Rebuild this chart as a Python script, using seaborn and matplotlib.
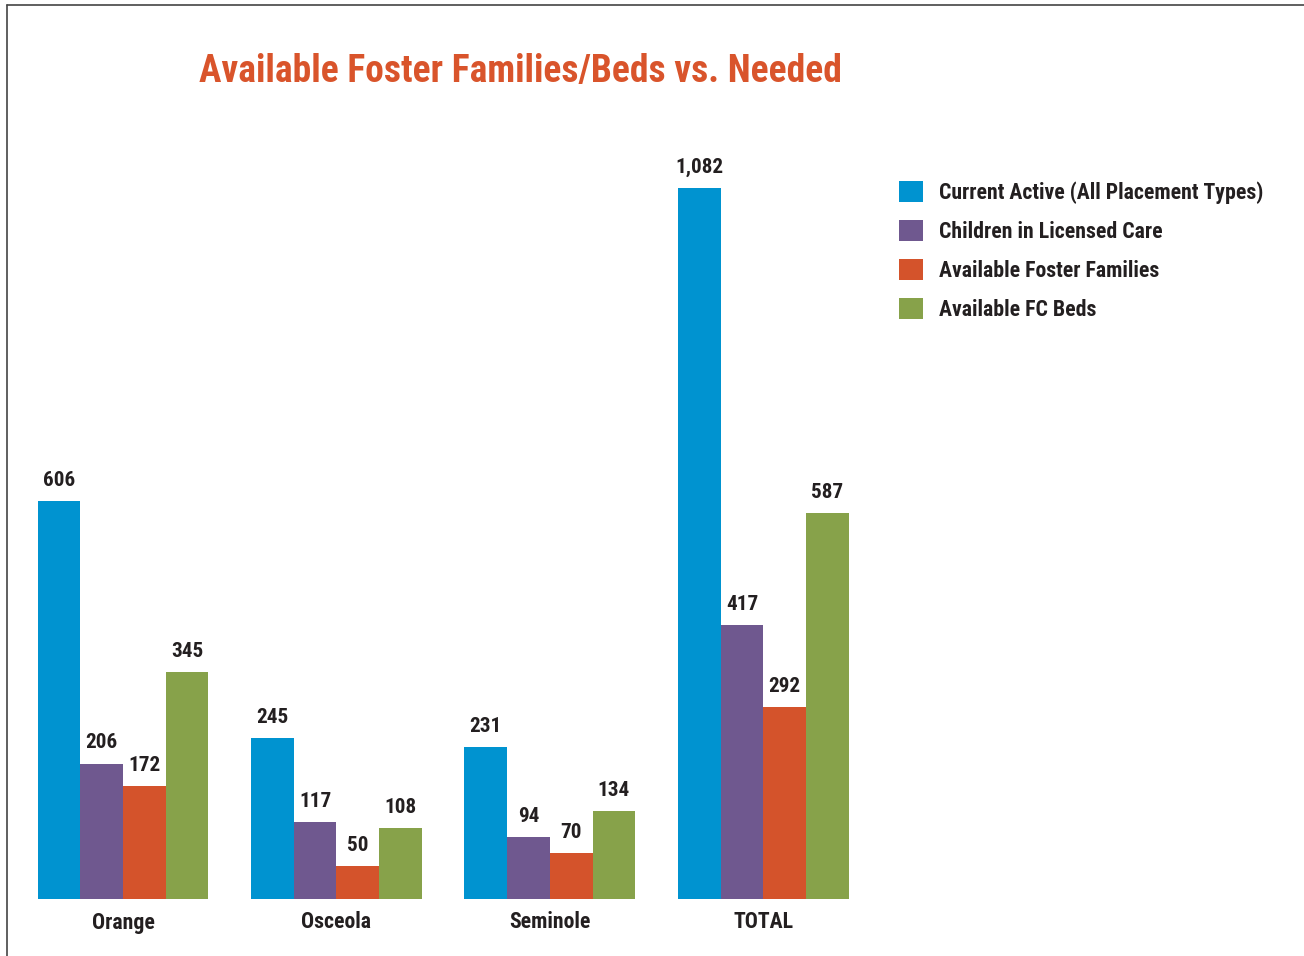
import matplotlib
matplotlib.use("Agg")
import matplotlib.pyplot as plt
import seaborn as sns
import pandas as pd
from matplotlib.lines import Line2D
from matplotlib import font_manager
from matplotlib.font_manager import FontProperties

counties = ["Orange", "Osceola", "Seminole", "TOTAL"]
series = ["Current Active (All Placement Types)", "Children in Licensed Care",
          "Available Foster Families", "Available FC Beds"]
current_active = [606, 245, 231, 1082]
licensed_care = [206, 117, 94, 417]
foster_families = [172, 50, 70, 292]
fc_beds = [345, 108, 134, 587]
colors = ["#0093D0", "#6F588F", "#D4532B", "#87A24A"]

rows = []
for s, vals in zip(series, [current_active, licensed_care, foster_families, fc_beds]):
    for c, v in zip(counties, vals):
        rows.append({"county": c, "series": s, "value": v})
df = pd.DataFrame(rows)

sns.set_style("white")


def pick_font():
    pref = ["Roboto Condensed", "DejaVu Sans", "Liberation Sans Narrow", "Noto Sans",
            "Open Sans", "Inter", "Roboto"]
    best = None
    for f in font_manager.fontManager.ttflist:
        fn = f.fname.lower()
        cond = ("condensed" in fn or "narrow" in fn or f.stretch in ("condensed", "semi-condensed"))
        if not cond or "semi" in fn or "extra" in fn or "ultra" in fn:
            continue
        w = f.weight if isinstance(f.weight, int) else font_manager.weight_dict.get(f.weight, 400)
        if "italic" in fn or "oblique" in fn or f.style != "normal":
            continue
        score = (pref.index(f.name) if f.name in pref else 50) + (0 if 650 <= w <= 750 else 5)
        if best is None or score < best[0]:
            best = (score, f.fname)
    return best[1] if best else None


path = pick_font()
if path:
    FP = lambda: FontProperties(fname=path)
else:
    FP = lambda: FontProperties(family="DejaVu Sans", weight="bold")

W, H = 1304, 956
fig = plt.figure(figsize=(W / 100, H / 100), dpi=100)
renderer = fig.canvas.get_renderer()


def fit(text, target_px):
    fp = FP()
    fp.set_size(20)
    t = fig.text(0, 0, text, fontproperties=fp)
    w = t.get_window_extent(renderer).width
    t.remove()
    return 20 * target_px / w


title_size = fit("Available Foster Families/Beds vs. Needed", 641)
leg_size = fit("Current Active (All Placement Types)", 323)
num_size = fit("1,082", 48)
tick_size = fit("Seminole", 81)

ax = fig.add_axes([16.3 / W, 57 / H, 853.7 / W, 723 / H])

sns.barplot(data=df, x="county", y="value", hue="series", palette=colors,
            order=counties, hue_order=series, width=0.8, saturation=1,
            linewidth=0, ax=ax, legend=True)
ax.set_xlim(-0.5, 3.5)
ax.set_ylim(0, 1100)
ax.set_xlabel("")
ax.set_ylabel("")
ax.set_yticks([])
for sp in ax.spines.values():
    sp.set_visible(False)
ax.tick_params(axis="x", length=0, pad=9, colors="#231F20")
for t in ax.get_xticklabels():
    fp = FP(); fp.set_size(tick_size)
    t.set_fontproperties(fp)

for cont in ax.containers:
    fp = FP(); fp.set_size(num_size)
    ax.bar_label(cont, labels=[f"{int(v):,}" for v in cont.datavalues], padding=8,
                 fontproperties=fp, color="#231F20")

handles, labels = ax.get_legend_handles_labels()
ax.legend_.remove()
fp = FP(); fp.set_size(leg_size)
fs_px = leg_size * 100 / 72
fig.legend(handles, labels, loc="upper left", bbox_to_anchor=(884 / W, 1 - 166 / H),
           frameon=False, prop=fp, handlelength=24 / fs_px, handleheight=24 / fs_px,
           labelspacing=(40 - 24) / fs_px, handletextpad=16 / fs_px, borderpad=0.2)
for t in fig.legends[0].get_texts():
    t.set_color("#231F20")

fp = FP(); fp.set_size(title_size)
fig.text(520 / W, 1 - 72 / H, "Available Foster Families/Beds vs. Needed",
         ha="center", va="center", fontproperties=fp, color="#D9542B")

fig.add_artist(Line2D([7 / W, 7 / W], [0, 1 - 5 / H], transform=fig.transFigure,
                      color="#444444", lw=1.2))
fig.add_artist(Line2D([7 / W, 1], [1 - 5 / H, 1 - 5 / H], transform=fig.transFigure,
                      color="#444444", lw=1.2))

fig.savefig("out.png", dpi=100, facecolor="white")
